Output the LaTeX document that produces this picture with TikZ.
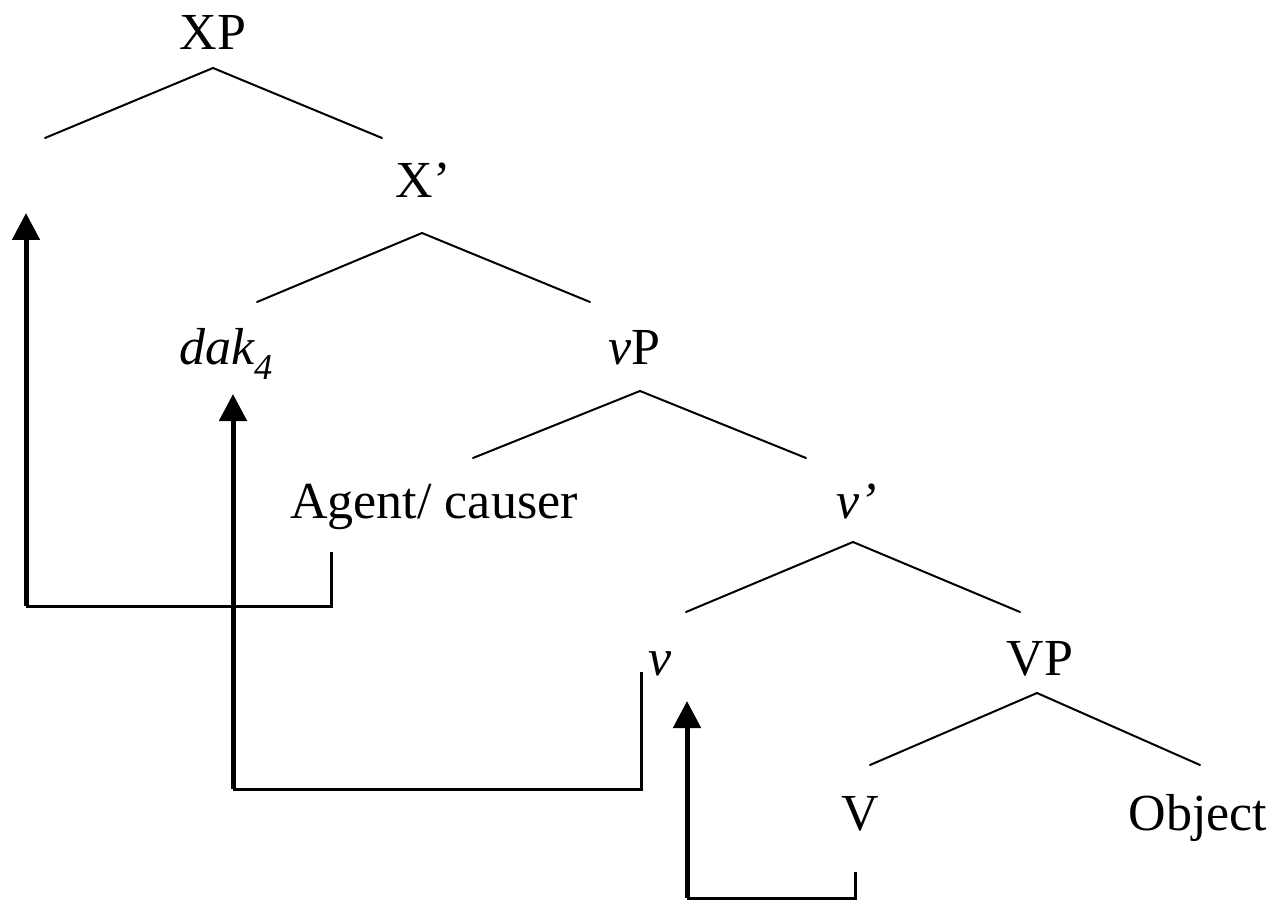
\documentclass[tikz,border=0pt]{standalone}
\usepackage{fontspec}
\setmainfont{Liberation Serif}
\usetikzlibrary{arrows.meta}
\begin{document}
\begin{tikzpicture}[x=1pt,y=-1pt,
  lbl/.style={anchor=base,inner sep=0pt,font=\fontsize{52}{60}\selectfont},
  branch/.style={line width=2pt,line cap=round},
  stub/.style={line width=3pt},
  shaft/.style={line width=5pt,-{Triangle[width=27pt,length=27pt]}}]
\useasboundingbox (0,0) rectangle (1275,904);
% labels
\node[lbl] (xp)   at (213,50)  {XP};
\node[lbl] (xbar) at (423,198) {X’};
\node[lbl] (dak)  at (226,364) {\itshape dak\textsubscript{4}};
\node[lbl] (vp)   at (634,364) {\itshape v\upshape P};
\node[lbl] (agent) at (434,518) {Agent/ causer};
\node[lbl] (vbar) at (857,518) {\itshape v’};
\node[lbl] (v)    at (660,675) {\itshape v};
\node[lbl] (VP)   at (1040,675) {VP};
\node[lbl] (V)    at (860,830) {V};
\node[lbl] (obj)  at (1198,830) {Object};
% branch points
\coordinate (xpT) at (213,68);   \coordinate (xpL) at (45,138);   \coordinate (xpR) at (382,138);
\coordinate (xbT) at (422,233);  \coordinate (xbL) at (257,302);  \coordinate (xbR) at (590,302);
\coordinate (vpT) at (640,391);  \coordinate (vpL) at (473,458);  \coordinate (vpR) at (806,458);
\coordinate (vbT) at (853,542);  \coordinate (vbL) at (686,612);  \coordinate (vbR) at (1020,612);
\coordinate (VPT) at (1037,693); \coordinate (VPL) at (870,765);  \coordinate (VPR) at (1200,765);
\draw[branch] (xpL) -- (xpT) -- (xpR);
\draw[branch] (xbL) -- (xbT) -- (xbR);
\draw[branch] (vpL) -- (vpT) -- (vpR);
\draw[branch] (vbL) -- (vbT) -- (vbR);
\draw[branch] (VPL) -- (VPT) -- (VPR);
% movement paths
\coordinate (a1) at (331,552); \coordinate (a2) at (331,606); \coordinate (a3) at (26,606); \coordinate (a4) at (26,213);
\coordinate (b1) at (641,672); \coordinate (b2) at (641,789); \coordinate (b3) at (233,789); \coordinate (b4) at (233,394);
\coordinate (c1) at (855,872); \coordinate (c2) at (855,898); \coordinate (c3) at (687,898); \coordinate (c4) at (687,701);
\draw[stub] (a1) -- (a2) -- (a3);
\draw[shaft] (a3) -- (a4);
\draw[stub] (b1) -- (b2) -- (b3);
\draw[shaft] (b3) -- (b4);
\draw[stub] (c1) -- (c2) -- (c3);
\draw[shaft] (c3) -- (c4);
\end{tikzpicture}
\end{document}
